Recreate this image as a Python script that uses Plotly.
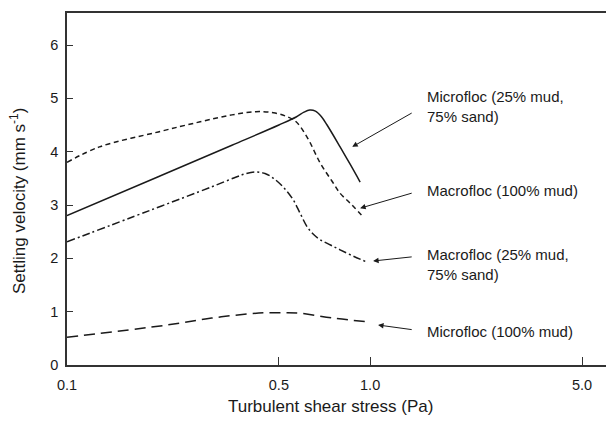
import plotly.graph_objects as go
import numpy as np

# Shear stress (Pa) and settling velocity (mm/s) for each floc class
micro_sand_x = [0.1, 0.2, 0.35, 0.5, 0.57, 0.605, 0.632, 0.66, 0.69, 0.721, 0.796, 0.86, 0.927]
micro_sand_y = [2.8, 3.53, 4.12, 4.5, 4.65, 4.74, 4.78, 4.76, 4.66, 4.5, 4.09, 3.76, 3.43]

macro_mud_x = [0.1, 0.128, 0.2, 0.275, 0.35, 0.42, 0.48, 0.53, 0.57, 0.62, 0.684, 0.75, 0.796, 0.85, 0.892, 0.948]
macro_mud_y = [3.8, 4.09, 4.37, 4.56, 4.69, 4.75, 4.73, 4.66, 4.56, 4.27, 3.79, 3.44, 3.22, 3.06, 2.94, 2.78]

macro_sand_x = [0.1, 0.188, 0.3, 0.36, 0.39, 0.42, 0.45, 0.48, 0.52, 0.557, 0.587, 0.62, 0.65, 0.684, 0.74, 0.796, 0.88, 0.977]
macro_sand_y = [2.31, 2.9, 3.34, 3.52, 3.59, 3.62, 3.59, 3.5, 3.32, 3.1, 2.85, 2.59, 2.45, 2.35, 2.25, 2.16, 2.04, 1.93]

micro_mud_x = [0.1, 0.214, 0.3, 0.4, 0.457, 0.52, 0.587, 0.755, 0.977]
micro_mud_y = [0.52, 0.75, 0.88, 0.96, 0.98, 0.98, 0.97, 0.88, 0.81]

x_ticks = [0.1, 0.5, 1.0, 5.0]
x_tick_text = ["0.1", "0.5", "1.0", "5.0"]
y_ticks = [0, 1, 2, 3, 4, 5, 6]

# Labels: text, arrow head (x, y), arrow tail (x, y), text anchor (x, y)
labels = ["Microfloc (25% mud,<br>75% sand)", "Macrofloc (100% mud)",
          "Macrofloc (25% mud,<br>75% sand)", "Microfloc (100% mud)"]
head_x = [0.873, 0.927, 1.023, 1.062]
head_y = [4.09, 2.94, 1.95, 0.75]
tail_x = [1.387, 1.387, 1.387, 1.387]
tail_y = [4.74, 3.23, 2.03, 0.66]
text_x = [1.52, 1.52, 1.52, 1.52]
text_y = [4.84, 3.28, 1.89, 0.62]

FONT = "Liberation Sans, Arial, sans-serif"
INK = "#1a1a1a"

fig = go.Figure()
series = [
    (micro_sand_x, micro_sand_y, "solid"),
    (macro_mud_x, macro_mud_y, "5px,3.5px"),
    (macro_sand_x, macro_sand_y, "8px,3px,2px,3px"),
    (micro_mud_x, micro_mud_y, "11px,6px"),
]
for xs, ys, dash in series:
    fig.add_trace(go.Scatter(
        x=xs, y=ys, mode="lines",
        line=dict(color=INK, width=1.5, dash=dash, shape="spline", smoothing=1.0),
        showlegend=False, hoverinfo="skip",
    ))

for t, hx, hy, tx, ty, lx, ly in zip(labels, head_x, head_y, tail_x, tail_y, text_x, text_y):
    fig.add_annotation(
        x=np.log10(hx), y=hy, ax=np.log10(tx), ay=ty, xref="x", yref="y",
        axref="x", ayref="y", text="", showarrow=True,
        arrowhead=2, arrowsize=1.1, arrowwidth=1, arrowcolor=INK,
    )
    fig.add_annotation(
        x=np.log10(lx), y=ly, xref="x", yref="y", text=t, showarrow=False,
        xanchor="left", yanchor="middle", align="left",
        font=dict(family=FONT, size=15, color=INK),
    )

# Axis titles
fig.add_annotation(
    x=0.488, y=-0.1165, xref="paper", yref="paper", showarrow=False,
    text="Turbulent shear stress (Pa)", xanchor="center", yanchor="middle",
    font=dict(family=FONT, size=17, color=INK),
)
fig.add_annotation(
    x=-0.0909, y=0.466, xref="paper", yref="paper", showarrow=False,
    text="Settling velocity (mm s<sup>-1</sup>)", textangle=-90,
    xanchor="center", yanchor="middle",
    font=dict(family=FONT, size=17, color=INK),
)

fig.update_xaxes(
    type="log", range=[-1, np.log10(6.0)],
    tickvals=x_ticks, ticktext=x_tick_text,
    ticks="inside", ticklen=8, tickwidth=1, tickcolor="#333",
    showline=True, linecolor="#333", linewidth=1.5, mirror=True,
    showgrid=False, zeroline=False, ticklabelstandoff=6,
    tickfont=dict(family=FONT, size=14.5, color=INK),
)
fig.update_yaxes(
    range=[0, 6.6], tickvals=y_ticks,
    ticks="inside", ticklen=6, tickwidth=1, tickcolor="#333",
    showline=True, linecolor="#333", linewidth=1.5,
    showgrid=False, zeroline=False, ticklabelstandoff=4,
    tickfont=dict(family=FONT, size=14.5, color=INK),
)
fig.update_layout(
    width=606, height=421,
    margin=dict(l=67, r=0, t=13, b=56),
    plot_bgcolor="white", paper_bgcolor="white",
)
fig.write_html("out.html")
